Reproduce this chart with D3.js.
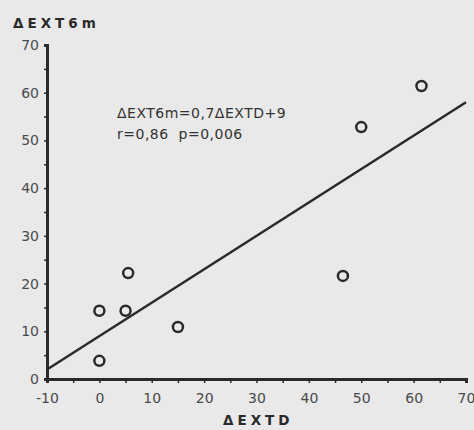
<!DOCTYPE html>
<html>
<head>
<meta charset="utf-8">
<script src="https://cdn.jsdelivr.net/npm/d3@7"></script>
<style>
  html, body { margin: 0; padding: 0; background: #e9e9e9; }
  svg { display: block; font-family: "DejaVu Sans", "Open Sans", sans-serif; }
</style>
</head>
<body>
<div id="body"></div>
<script>
// data
const extD = [0, 0, 5, 5.5, 15, 46.5, 50, 61.5];
const ext6m = [3.8, 14.3, 14.3, 22.2, 10.9, 21.6, 52.8, 61.4];
const fitX = [-10, 70];
const fitY = [2, 58];
const xTicks = [-10, 0, 10, 20, 30, 40, 50, 60, 70];
const yTicks = [0, 10, 20, 30, 40, 50, 60, 70];
const minorTicks = [-5, 5, 15, 25, 35, 45, 55, 65];
const noteLines = ['ΔEXT6m=0,7ΔEXTD+9', 'r=0,86  p=0,006'];

const width = 474, height = 430;
const ink = '#2a2a2a';

let svg = d3.select('#body').append('svg')
    .attr('width', width)
    .attr('height', height);

let x = d3.scaleLinear().domain([-10, 70]).range([47, 466]);
let y = d3.scaleLinear().domain([0, 70]).range([379, 45]);

// x axis
let xAxis = svg.append('g').attr('transform', `translate(0,${y(0)})`)
    .call(d3.axisBottom(x).tickValues(xTicks).tickSize(4).tickPadding(10)
        .tickFormat(d => String(d)));
xAxis.append('g')
    .call(d3.axisBottom(x).tickValues(minorTicks).tickSize(4).tickFormat(''));

// y axis
let yAxis = svg.append('g').attr('transform', `translate(${x(-10)},0)`)
    .call(d3.axisLeft(y).tickValues(yTicks).tickSize(3).tickPadding(5));
yAxis.append('g')
    .call(d3.axisLeft(y).tickValues(minorTicks.filter(d => d > 0)).tickSize(3).tickFormat(''));

svg.selectAll('.domain').attr('stroke', ink).attr('stroke-width', 3);
svg.selectAll('.tick line').attr('stroke', ink).attr('stroke-width', 1.5);
svg.selectAll('.tick text')
    .attr('fill', '#4a4a4a')
    .style('font-family', '"DejaVu Sans", sans-serif')
    .style('font-size', '14px');

// axis titles
svg.append('text')
    .attr('x', 13).attr('y', 28)
    .attr('fill', ink)
    .style('font-size', '13.5px').style('font-weight', 'bold').style('letter-spacing', '4px')
    .text('ΔEXT6m');
svg.append('text')
    .attr('x', 223).attr('y', 425)
    .attr('fill', ink)
    .style('font-size', '13.5px').style('font-weight', 'bold').style('letter-spacing', '4px')
    .text('ΔEXTD');

// regression line
svg.append('line')
    .attr('x1', x(fitX[0])).attr('y1', y(fitY[0]))
    .attr('x2', x(fitX[1])).attr('y2', y(fitY[1]))
    .attr('stroke', ink).attr('stroke-width', 2.5);

// points
svg.append('g').selectAll('circle')
    .data(extD.map((d, i) => [d, ext6m[i]]))
    .join('circle')
    .attr('cx', d => x(d[0]))
    .attr('cy', d => y(d[1]))
    .attr('r', 5)
    .attr('fill', 'none')
    .attr('stroke', ink)
    .attr('stroke-width', 2.5);

// annotation
svg.append('g').selectAll('text')
    .data(noteLines)
    .join('text')
    .attr('x', 117)
    .attr('y', (d, i) => 118 + i * 21)
    .attr('fill', '#333')
    .style('font-size', '14px')
    .style('letter-spacing', '0.5px')
    .style('white-space', 'pre')
    .text(d => d);
</script>
</body>
</html>
